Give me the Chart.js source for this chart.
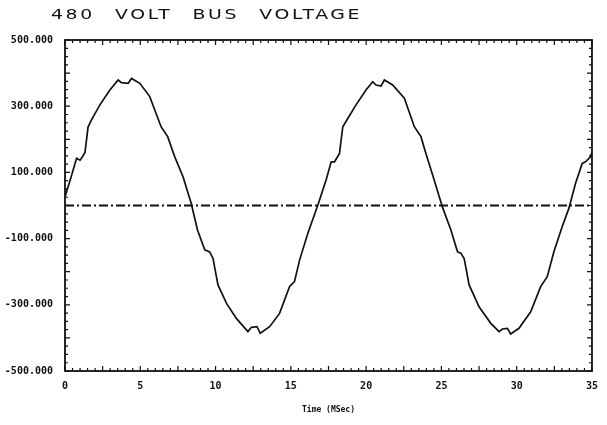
<!DOCTYPE html>
<html>
<head>
<meta charset="utf-8">
<script src="https://cdn.jsdelivr.net/npm/chart.js@4.4.1/dist/chart.umd.min.js"></script>
<style>
  html, body { margin: 0; padding: 0; background: #fff; }
  #wrap { position: relative; width: 607px; height: 425px; }
  #title {
    position: absolute; left: 51px; top: 6px;
    font-family: "DejaVu Sans", sans-serif; font-size: 14.5px; font-weight: normal;
    letter-spacing: 2px; word-spacing: 9px; color: #111; white-space: nowrap;
    transform: scaleX(1.3); transform-origin: left top;
  }
</style>
</head>
<body>
<div id="wrap">
  <div id="title">480 VOLT BUS VOLTAGE</div>
  <canvas id="chart" width="607" height="425"></canvas>
</div>
<script>
// Bus voltage trace (time in ms, volts)
const timeMs = [
  0.0, 0.4, 0.77, 1.0, 1.2, 1.33, 1.53, 1.75, 2.32, 2.98, 3.53, 3.75, 4.19, 4.42, 4.97,
  5.63, 6.38, 6.82, 7.29, 7.84, 8.38, 8.8, 9.28, 9.61, 9.83, 10.16, 10.72, 11.38, 12.15,
  12.38, 12.75, 12.97, 13.59, 14.25, 14.91, 15.24, 15.58, 16.13, 16.79, 17.34, 17.68, 17.9,
  18.23, 18.45, 18.78, 19.33, 19.99, 20.44, 20.66, 20.99, 21.21, 21.76, 22.54, 23.2, 23.64,
  23.97, 24.52, 25.07, 25.63, 26.07, 26.29, 26.51, 26.84, 27.5, 28.28, 28.83, 29.05, 29.38,
  29.6, 30.15, 30.93, 31.59, 32.03, 32.47, 33.02, 33.47, 33.91, 34.35, 34.57, 34.9, 35.0
];
const busVolts = [
  26, 85, 143, 137, 150, 161, 237, 258, 304, 349, 379, 371, 369, 384, 369,
  329, 238, 208, 147, 87, 7, -74, -134, -140, -160, -240, -295, -341, -381,
  -368, -366, -386, -366, -326, -245, -230, -165, -84, 1, 77, 132, 132,
  157, 238, 263, 304, 349, 374, 364, 361, 379, 364, 324, 238, 208,
  157, 77, -5, -74, -140, -144, -160, -240, -306, -356, -381, -373, -371,
  -388, -371, -321, -245, -215, -140, -64, -8, 67, 127, 132, 147, 162
];

// dash-dot reference trace
const refTime = [0, 35];
const refVolts = [0, 0];

const xTickValues = [0, 5, 10, 15, 20, 25, 30, 35];
const yTickValues = [-500, -300, -100, 100, 300, 500];

const tickFont = { family: '"DejaVu Sans Mono", monospace', size: 10, weight: 'bold' };

// inward tick marks and the frame, like the plotter output
const frameTicks = {
  id: 'frameTicks',
  afterDatasetsDraw(chart) {
    const { ctx, chartArea: a, scales } = chart;
    const x = scales.x, y = scales.y;
    ctx.save();
    ctx.strokeStyle = '#111';
    ctx.lineWidth = 1.2;
    ctx.beginPath();
    for (let i = 0; i <= 70; i++) {
      const px = x.getPixelForValue(i * 0.5);
      const len = i % 5 === 0 ? 5 : 3;
      ctx.moveTo(px, a.top); ctx.lineTo(px, a.top + len);
      ctx.moveTo(px, a.bottom); ctx.lineTo(px, a.bottom - len);
    }
    for (let i = 0; i <= 40; i++) {
      const py = y.getPixelForValue(-500 + i * 25);
      const len = i % 4 === 0 ? 5 : 3;
      ctx.moveTo(a.left, py); ctx.lineTo(a.left + len, py);
      ctx.moveTo(a.right, py); ctx.lineTo(a.right - len, py);
    }
    ctx.stroke();
    ctx.lineWidth = 1.8;
    ctx.strokeRect(a.left, a.top, a.right - a.left, a.bottom - a.top);
    ctx.restore();
  }
};

new Chart(document.getElementById('chart').getContext('2d'), {
  type: 'line',
  data: {
    datasets: [
      {
        label: 'Bus voltage',
        data: timeMs.map((t, i) => ({ x: t, y: busVolts[i] })),
        borderColor: '#111',
        borderWidth: 1.7,
        pointRadius: 0,
        tension: 0
      },
      {
        label: 'Reference',
        data: refTime.map((t, i) => ({ x: t, y: refVolts[i] })),
        borderColor: '#111',
        borderWidth: 2,
        borderDash: [9, 3, 2, 3],
        pointRadius: 0
      }
    ]
  },
  options: {
    responsive: false,
    animation: false,
    layout: { padding: { top: 40, right: 14, left: 0, bottom: 0 } },
    plugins: {
      legend: { display: false },
      tooltip: { enabled: false }
    },
    scales: {
      x: {
        type: 'linear',
        min: 0,
        max: 35,
        afterBuildTicks: scale => { scale.ticks = xTickValues.map(v => ({ value: v })); },
        afterFit: scale => { scale.height = 54; },
        grid: { drawOnChartArea: false, drawTicks: false },
        border: { display: false },
        ticks: { color: '#111', font: tickFont, padding: 9, maxRotation: 0 },
        title: {
          display: true,
          text: 'Time (MSec)',
          color: '#111',
          font: { family: '"DejaVu Sans Mono", monospace', size: 8, weight: 'bold' },
          padding: { top: 0, bottom: 10 }
        }
      },
      y: {
        type: 'linear',
        min: -500,
        max: 500,
        afterBuildTicks: scale => { scale.ticks = yTickValues.map(v => ({ value: v })); },
        afterFit: scale => { scale.width = 65; },
        grid: { drawOnChartArea: false, drawTicks: false },
        border: { display: false },
        ticks: {
          color: '#111',
          font: tickFont,
          padding: 12,
          callback: v => v.toFixed(3)
        }
      }
    }
  },
  plugins: [frameTicks]
});
</script>
</body>
</html>
